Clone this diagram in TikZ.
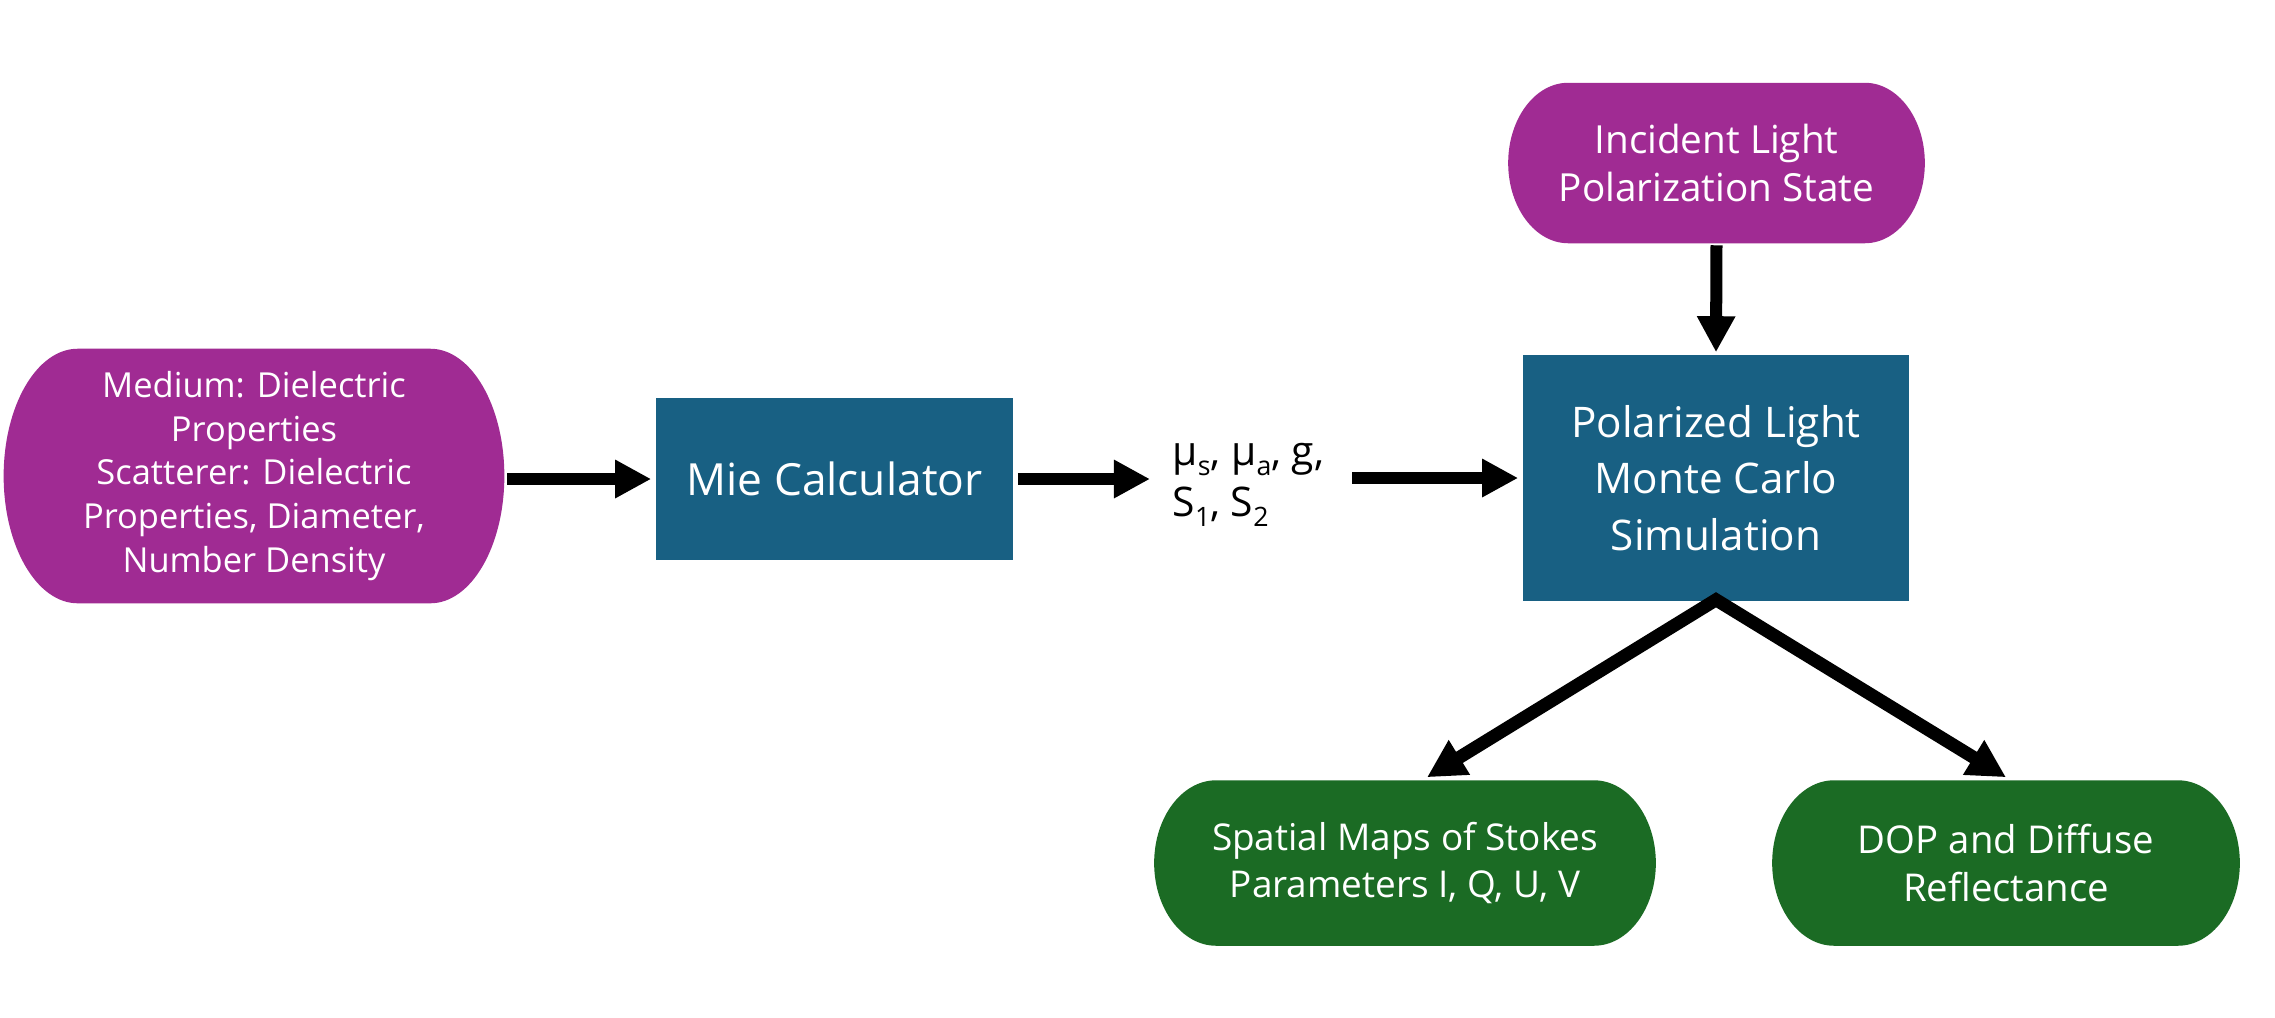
\documentclass[tikz,border=0pt]{standalone}
\usepackage{fontspec}
\setmainfont{Open Sans}
\usetikzlibrary{arrows.meta,backgrounds,calc}
\definecolor{purp}{HTML}{A02B93}
\definecolor{blu}{HTML}{186083}
\definecolor{grn}{HTML}{1B6B24}
\newcommand\lowr[1]{\raisebox{-0.45ex}{\fontsize{7.6}{7.6}\selectfont #1}}
\newcommand\pillshape[3]{%
  \fill[#3] let \p1=(#1.north west), \p2=(#1.south east) in
    (\x1+#2,\y1) -- (\x2-#2,\y1)
    arc[start angle=90,end angle=-90,x radius=#2,y radius={(\y1-\y2)/2}]
    -- (\x1+#2,\y2)
    arc[start angle=270,end angle=90,x radius=#2,y radius={(\y1-\y2)/2}]
    -- cycle;}
\begin{document}
\begin{tikzpicture}[x=0.01cm,y=-0.01cm,
  txt/.style={text=white,align=center,inner sep=0pt},
  boxnode/.style={txt,fill=blu,font=\fontsize{12}{16}\selectfont},
  arr/.style={line width=0.12cm,-{Triangle[length=0.36cm,width=0.36cm]}}]
\useasboundingbox (0,0) rectangle (2275,1017);
% nodes
\node[txt,minimum width=4.99cm,minimum height=2.53cm,font=\fontsize{9.8}{12.45}\selectfont] (med) at (254,476)
  {Medium: Dielectric\\Properties\\Scatterer: Dielectric\\Properties, Diameter,\\Number Density};
\node[boxnode,minimum width=3.57cm,minimum height=1.62cm,font=\fontsize{12.6}{16}\selectfont] (mie) at (834.5,479) {Mie Calculator};
\node[anchor=west,align=left,inner sep=0pt,font=\fontsize{11.6}{14.4}\selectfont] (par) at (1172,485)
  {μ\lowr{s}, μ\lowr{a}, g,\\S\lowr{1}, S\lowr{2}};
\node[boxnode,minimum width=3.86cm,minimum height=2.46cm] (poly) at (1716,478)
  {Polarized Light\\Monte Carlo\\Simulation};
\node[txt,minimum width=4.15cm,minimum height=1.59cm,font=\fontsize{11}{13.9}\selectfont] (inc) at (1716.5,163)
  {Incident Light\\Polarization State};
\node[txt,minimum width=5.0cm,minimum height=1.64cm,font=\fontsize{10.5}{13.6}\selectfont] (spat) at (1405,863)
  {Spatial Maps of Stokes\\Parameters I, Q, U, V};
\node[txt,minimum width=4.66cm,minimum height=1.64cm,font=\fontsize{10.9}{13.6}\selectfont] (dop) at (2006,863)
  {DOP and Diffuse\\Reflectance};
% shapes behind the texts
\begin{scope}[on background layer]
  \fill[white] (0,0) rectangle (2275,1017);
  \pillshape{med}{0.74cm}{purp}
  \pillshape{inc}{0.6cm}{purp}
  \pillshape{spat}{0.62cm}{grn}
  \pillshape{dop}{0.62cm}{grn}
\end{scope}
% connectors
\draw[arr,shorten <=0.03cm,shorten >=0.04cm] (med.east |- mie.west) -- (mie.west);
\draw[arr,shorten <=0.04cm,shorten >=0.22cm] (mie.east) -- (par.west |- mie.east);
\draw[arr,shorten <=0.27cm,shorten >=0.04cm] (par.east |- poly.west) -- (poly.west);
\draw[arr,shorten <=0.02cm,shorten >=0.02cm] (inc.south) -- (poly.north);
\draw[line width=0.13cm,{Triangle[length=0.38cm,width=0.38cm]}-{Triangle[length=0.38cm,width=0.38cm]},miter limit=10]
  ([xshift=0.22cm,yshift=0.03cm]spat.north) -- ([yshift=0.02cm]poly.south) -- ([yshift=0.03cm]dop.north);
\end{tikzpicture}
\end{document}
